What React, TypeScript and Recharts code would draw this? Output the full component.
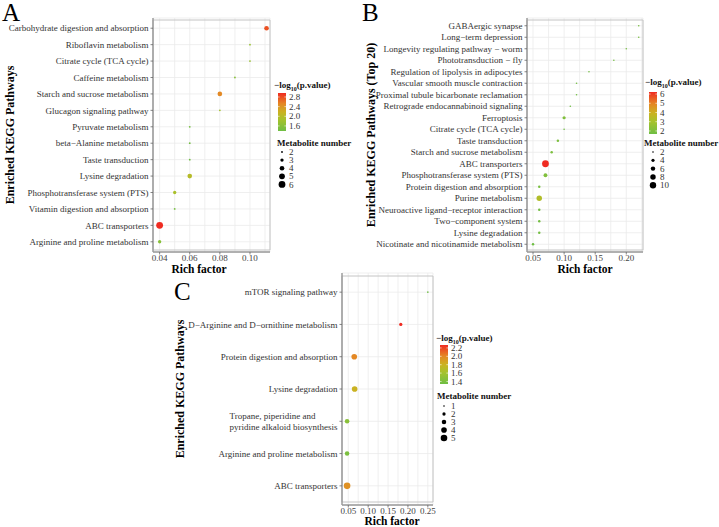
import { useLayoutEffect, useRef, useState } from "react";
import {
    CartesianGrid,
    ReferenceArea,
    Scatter,
    ScatterChart,
    XAxis,
    YAxis,
} from "recharts";

const FONT = '"Liberation Serif", "Times New Roman", serif';

// ---- panel A ----
const pathwaysA = [
    "Carbohydrate digestion and absorption",
    "Riboflavin metabolism",
    "Citrate cycle (TCA cycle)",
    "Caffeine metabolism",
    "Starch and sucrose metabolism",
    "Glucagon signaling pathway",
    "Pyruvate metabolism",
    "beta\u2212Alanine metabolism",
    "Taste transduction",
    "Lysine degradation",
    "Phosphotransferase system (PTS)",
    "Vitamin digestion and absorption",
    "ABC transporters",
    "Arginine and proline metabolism",
];
const richA = [0.111, 0.1, 0.1, 0.09, 0.08, 0.08, 0.06, 0.06, 0.06, 0.06, 0.05, 0.05, 0.04, 0.04];
const pvalA = [2.78, 1.75, 1.75, 1.6, 2.5, 1.85, 1.45, 1.42, 1.4, 2.0, 1.9, 1.45, 2.96, 1.6];
const countA = [4, 2, 2, 2, 4, 2, 2, 2, 2, 4, 3, 2, 6, 3];
const ticksA = [0.04, 0.05, 0.06, 0.07, 0.08, 0.09, 0.1, 0.11];
const majorsA = [0.04, 0.06, 0.08, 0.1];
const colorBreaksA = [1.6, 2.0, 2.4, 2.8];
const sizeBreaksA = [2, 3, 4, 5, 6];

// ---- panel B ----
const pathwaysB = [
    "GABAergic synapse",
    "Long\u2212term depression",
    "Longevity regulating pathway \u2212 worm",
    "Phototransduction \u2212 fly",
    "Regulation of lipolysis in adipocytes",
    "Vascular smooth muscle contraction",
    "Proximal tubule bicarbonate reclamation",
    "Retrograde endocannabinoid signaling",
    "Ferroptosis",
    "Citrate cycle (TCA cycle)",
    "Taste transduction",
    "Starch and sucrose metabolism",
    "ABC transporters",
    "Phosphotransferase system (PTS)",
    "Protein digestion and absorption",
    "Purine metabolism",
    "Neuroactive ligand\u2212receptor interaction",
    "Two\u2212component system",
    "Lysine degradation",
    "Nicotinate and nicotinamide metabolism",
];
const richB = [0.22, 0.22, 0.2, 0.18, 0.14, 0.12, 0.12, 0.11, 0.1, 0.1, 0.09, 0.08, 0.07, 0.07, 0.06, 0.06, 0.06, 0.06, 0.06, 0.05];
const pvalB = [1.9, 1.9, 1.85, 1.8, 1.75, 1.75, 1.75, 1.7, 2.1, 1.7, 2.0, 2.0, 6.22, 2.1, 1.9, 3.3, 1.8, 1.8, 1.8, 1.67];
const countB = [2, 2, 2, 2, 2, 2, 2, 2, 4, 2, 3, 3, 11, 5, 3, 8, 3, 3, 3, 3];
const ticksB = [0.05, 0.075, 0.1, 0.125, 0.15, 0.175, 0.2, 0.225];
const majorsB = [0.05, 0.1, 0.15, 0.2];
const colorBreaksB = [2, 3, 4, 5, 6];
const sizeBreaksB = [2, 4, 6, 8, 10];

// ---- panel C ----
const pathwaysC = [
    "mTOR signaling pathway",
    "D\u2212Arginine and D\u2212ornithine metabolism",
    "Protein digestion and absorption",
    "Lysine degradation",
    "Tropane, piperidine and\npyridine alkaloid biosynthesis",
    "Arginine and proline metabolism",
    "ABC transporters",
];
const richC = [0.25, 0.182, 0.065, 0.066, 0.047, 0.047, 0.047];
const pvalC = [1.34, 2.27, 2.0, 1.8, 1.47, 1.4, 1.96];
const countC = [1, 2, 4, 4, 3, 3, 5];
const ticksC = [0.05, 0.075, 0.1, 0.125, 0.15, 0.175, 0.2, 0.225, 0.25];
const majorsC = [0.05, 0.1, 0.15, 0.2, 0.25];
const colorBreaksC = [1.4, 1.6, 1.8, 2.0, 2.2];
const sizeBreaksC = [1, 2, 3, 4, 5];

const GRAD: [number, string][] = [
    [0, "#6FBE44"],
    [0.3, "#A6C22C"],
    [0.5, "#CBB222"],
    [0.72, "#E58624"],
    [1, "#EF2B22"],
];

function hex(c: string) {
    return [1, 3, 5].map((i) => parseInt(c.slice(i, i + 2), 16));
}

function gradColor(t: number) {
    const u = Math.max(0, Math.min(1, t));
    for (let i = 1; i < GRAD.length; i++) {
        if (u <= GRAD[i][0]) {
            const [t0, c0] = GRAD[i - 1];
            const [t1, c1] = GRAD[i];
            const f = (u - t0) / (t1 - t0);
            const a = hex(c0);
            const b = hex(c1);
            const m = a.map((v, k) => Math.round(v + (b[k] - v) * f));
            return `rgb(${m[0]},${m[1]},${m[2]})`;
        }
    }
    return GRAD[GRAD.length - 1][1];
}

function makeSize(nmin: number, nmax: number, rmin: number, rmax: number) {
    return (n: number) =>
        rmin + ((rmax - rmin) * (Math.sqrt(n) - Math.sqrt(nmin))) / (Math.sqrt(nmax) - Math.sqrt(nmin));
}

const sizeA = makeSize(2, 6, 0.9, 3.4);
const sizeB = makeSize(2, 11, 0.8, 3.4);
const sizeC = makeSize(1, 5, 0.8, 3.3);

function YTick(props: any) {
    const { x, y, payload } = props;
    const lines = String(payload.value).split("\n");
    const refs = useRef<(SVGTextElement | null)[]>([]);
    const [maxW, setMaxW] = useState(0);
    useLayoutEffect(() => {
        if (lines.length > 1) {
            const w = Math.max(...refs.current.map((r) => (r ? r.getComputedTextLength() : 0)));
            if (Math.abs(w - maxW) > 0.5) setMaxW(w);
        }
    });
    const tx = x - 4.5;
    return (
        <g>
            <line x1={x - 2.5} x2={x} y1={y} y2={y} stroke="#666" strokeWidth={0.8} />
            {lines.map((l, i) => (
                <text
                    key={i}
                    ref={(el) => {
                        refs.current[i] = el;
                    }}
                    x={lines.length > 1 && maxW ? tx - maxW : tx}
                    y={y + (i - (lines.length - 1) / 2) * 11}
                    dy="0.35em"
                    textAnchor={lines.length > 1 && maxW ? "start" : "end"}
                    fontSize={9}
                    fill="#333"
                    fontFamily={FONT}
                >
                    {l}
                </text>
            ))}
        </g>
    );
}

function makeXTick(majors: number[]) {
    return (p: any) => {
        const { x, y, payload } = p;
        const v = payload.value as number;
        if (!majors.some((m) => Math.abs(m - v) < 1e-9)) return <g />;
        return (
            <g>
                <line x1={x} x2={x} y1={y} y2={y + 2.5} stroke="#666" strokeWidth={0.8} />
                <text x={x} y={y + 6} dy="0.35em" textAnchor="middle" fontSize={9} fill="#444" fontFamily={FONT}>
                    {v.toFixed(2)}
                </text>
            </g>
        );
    };
}

interface PanelProps {
    left: number;
    top: number;
    width: number;
    height: number;
    yWidth: number;
    right: number;
    names: string[];
    rich: number[];
    pval: number[];
    count: number[];
    domain: [number, number];
    ticks: number[];
    majors: number[];
    pad: number;
    crange: [number, number];
    size: (n: number) => number;
}

function Panel(pp: PanelProps) {
    const data = pp.names.map((name, i) => ({ name, rich: pp.rich[i], p: pp.pval[i], n: pp.count[i] }));
    const [c0, c1] = pp.crange;
    return (
        <div style={{ position: "absolute", left: pp.left, top: pp.top }}>
            <ScatterChart
                width={pp.width}
                height={pp.height}
                margin={{ top: 18, right: pp.right, bottom: 0, left: 0 }}
            >
                <CartesianGrid stroke="#ebebeb" strokeWidth={0.8} />
                <XAxis
                    type="number"
                    dataKey="rich"
                    domain={pp.domain}
                    ticks={pp.ticks}
                    allowDataOverflow
                    height={28}
                    tickSize={0}
                    tickMargin={0}
                    tickLine={false}
                    axisLine={{ stroke: "#999", strokeWidth: 1.4 }}
                    tick={makeXTick(pp.majors)}
                    interval={0}
                />
                <YAxis
                    type="category"
                    dataKey="name"
                    reversed
                    width={pp.yWidth}
                    padding={{ top: pp.pad, bottom: pp.pad }}
                    tickSize={0}
                    tickMargin={0}
                    tickLine={false}
                    axisLine={{ stroke: "#999", strokeWidth: 1.4 }}
                    tick={(p: any) => <YTick {...p} />}
                    interval={0}
                    allowDuplicatedCategory={false}
                />
                <ReferenceArea
                    x1={pp.domain[0]}
                    x2={pp.domain[1]}
                    fill="none"
                    stroke="#c4c4c4"
                    strokeWidth={1}
                    ifOverflow="visible"
                />
                <Scatter
                    data={data}
                    isAnimationActive={false}
                    shape={(s: any) => (
                        <circle
                            cx={s.cx}
                            cy={s.cy}
                            r={pp.size(s.payload.n)}
                            fill={gradColor((s.payload.p - c0) / (c1 - c0))}
                        />
                    )}
                />
            </ScatterChart>
        </div>
    );
}

interface LegendProps {
    id: string;
    x: number;
    titleY: number;
    barTop: number;
    barBottom: number;
    crange: [number, number];
    breaks: number[];
    decimals: number;
    sizeTitleX: number;
    sizeTitleY: number;
    sizeY0: number;
    sizeStep: number;
    sizeBreaks: number[];
    size: (n: number) => number;
}

function Legend(l: LegendProps) {
    const [c0, c1] = l.crange;
    const yOf = (v: number) => l.barBottom - ((v - c0) / (c1 - c0)) * (l.barBottom - l.barTop);
    const bx = l.x + 4;
    const bw = 8;
    return (
        <g fontFamily={FONT}>
            <defs>
                <linearGradient id={l.id} x1="0" y1="1" x2="0" y2="0">
                    {GRAD.map(([t, c]) => (
                        <stop key={t} offset={t} stopColor={c} />
                    ))}
                </linearGradient>
            </defs>
            <text x={l.x} y={l.titleY} fontSize={9} fontWeight="bold" fill="#111">
                {"\u2212log"}
                <tspan fontSize={6} dy={2.5}>
                    10
                </tspan>
                <tspan dy={-2.5}>(p.value)</tspan>
            </text>
            <rect x={bx} y={l.barTop} width={bw} height={l.barBottom - l.barTop} fill={`url(#${l.id})`} />
            {l.breaks.map((b) => (
                <g key={b}>
                    <line x1={bx} x2={bx + 1.6} y1={yOf(b)} y2={yOf(b)} stroke="#fff" strokeWidth={0.6} />
                    <line x1={bx + bw - 1.6} x2={bx + bw} y1={yOf(b)} y2={yOf(b)} stroke="#fff" strokeWidth={0.6} />
                    <text x={bx + bw + 3} y={yOf(b)} dy="0.35em" fontSize={9} fill="#333">
                        {b.toFixed(l.decimals)}
                    </text>
                </g>
            ))}
            <text x={l.sizeTitleX} y={l.sizeTitleY} fontSize={9} fontWeight="bold" fill="#111">
                Metabolite number
            </text>
            {l.sizeBreaks.map((n, i) => (
                <g key={n}>
                    <circle cx={bx + bw / 2} cy={l.sizeY0 + i * l.sizeStep} r={l.size(n)} fill="#000" />
                    <text x={bx + bw + 3} y={l.sizeY0 + i * l.sizeStep} dy="0.35em" fontSize={9} fill="#333">
                        {n}
                    </text>
                </g>
            ))}
        </g>
    );
}

export default function App() {
    return (
        <div
            style={{
                position: "absolute",
                left: 0,
                top: 0,
                width: 719,
                height: 527,
                background: "#fff",
                overflow: "hidden",
                fontFamily: FONT,
            }}
        >
            <Panel
                left={0}
                top={0}
                width={300}
                height={280}
                yWidth={153}
                right={30}
                names={pathwaysA}
                rich={richA}
                pval={pvalA}
                count={countA}
                domain={[0.0356, 0.1133]}
                ticks={ticksA}
                majors={majorsA}
                pad={2}
                crange={[1.39, 2.965]}
                size={sizeA}
            />
            <Panel
                left={360}
                top={0}
                width={300}
                height={280}
                yWidth={167}
                right={17}
                names={pathwaysB}
                rich={richB}
                pval={pvalB}
                count={countB}
                domain={[0.0403, 0.2269]}
                ticks={ticksB}
                majors={majorsB}
                pad={2}
                crange={[1.67, 6.22]}
                size={sizeB}
            />
            <Panel
                left={150}
                top={255}
                width={300}
                height={278}
                yWidth={192}
                right={17}
                names={pathwaysC}
                rich={richC}
                pval={pvalC}
                count={countC}
                domain={[0.0342, 0.263]}
                ticks={ticksC}
                majors={majorsC}
                pad={3}
                crange={[1.34, 2.27]}
                size={sizeC}
            />
            <svg
                width={719}
                height={527}
                style={{ position: "absolute", left: 0, top: 0, pointerEvents: "none" }}
                fontFamily={FONT}
            >
                <text x={2} y={21} fontSize={25} fill="#000">A</text>
                <text x={362} y={21} fontSize={25} fill="#000">B</text>
                <text x={174} y={300} fontSize={25} fill="#000">C</text>

                <text transform="translate(10,135) rotate(-90)" textAnchor="middle" dy="0.35em" fontSize={12} fontWeight="bold">
                    Enriched KEGG Pathways
                </text>
                <text transform="translate(371,135) rotate(-90)" textAnchor="middle" dy="0.35em" fontSize={12} fontWeight="bold">
                    Enriched KEGG Pathways (Top 20)
                </text>
                <text transform="translate(180,389) rotate(-90)" textAnchor="middle" dy="0.35em" fontSize={12} fontWeight="bold">
                    Enriched KEGG Pathways
                </text>

                <text x={199} y={273} textAnchor="middle" fontSize={11.5} fontWeight="bold">Rich factor</text>
                <text x={585} y={273} textAnchor="middle" fontSize={11.5} fontWeight="bold">Rich factor</text>
                <text x={392} y={525} textAnchor="middle" fontSize={11.5} fontWeight="bold">Rich factor</text>

                <Legend
                    id="gA"
                    x={274}
                    titleY={88}
                    barTop={93}
                    barBottom={131}
                    crange={[1.39, 2.965]}
                    breaks={colorBreaksA}
                    decimals={1}
                    sizeTitleX={277}
                    sizeTitleY={146}
                    sizeY0={152}
                    sizeStep={8.1}
                    sizeBreaks={sizeBreaksA}
                    size={sizeA}
                />
                <Legend
                    id="gB"
                    x={645}
                    titleY={85}
                    barTop={92}
                    barBottom={134}
                    crange={[1.67, 6.22]}
                    breaks={colorBreaksB}
                    decimals={0}
                    sizeTitleX={644}
                    sizeTitleY={146}
                    sizeY0={152}
                    sizeStep={8.3}
                    sizeBreaks={sizeBreaksB}
                    size={sizeB}
                />
                <Legend
                    id="gC"
                    x={436}
                    titleY={341}
                    barTop={345}
                    barBottom={384}
                    crange={[1.34, 2.27]}
                    breaks={colorBreaksC}
                    decimals={1}
                    sizeTitleX={437}
                    sizeTitleY={399}
                    sizeY0={406}
                    sizeStep={8}
                    sizeBreaks={sizeBreaksC}
                    size={sizeC}
                />
            </svg>
        </div>
    );
}
